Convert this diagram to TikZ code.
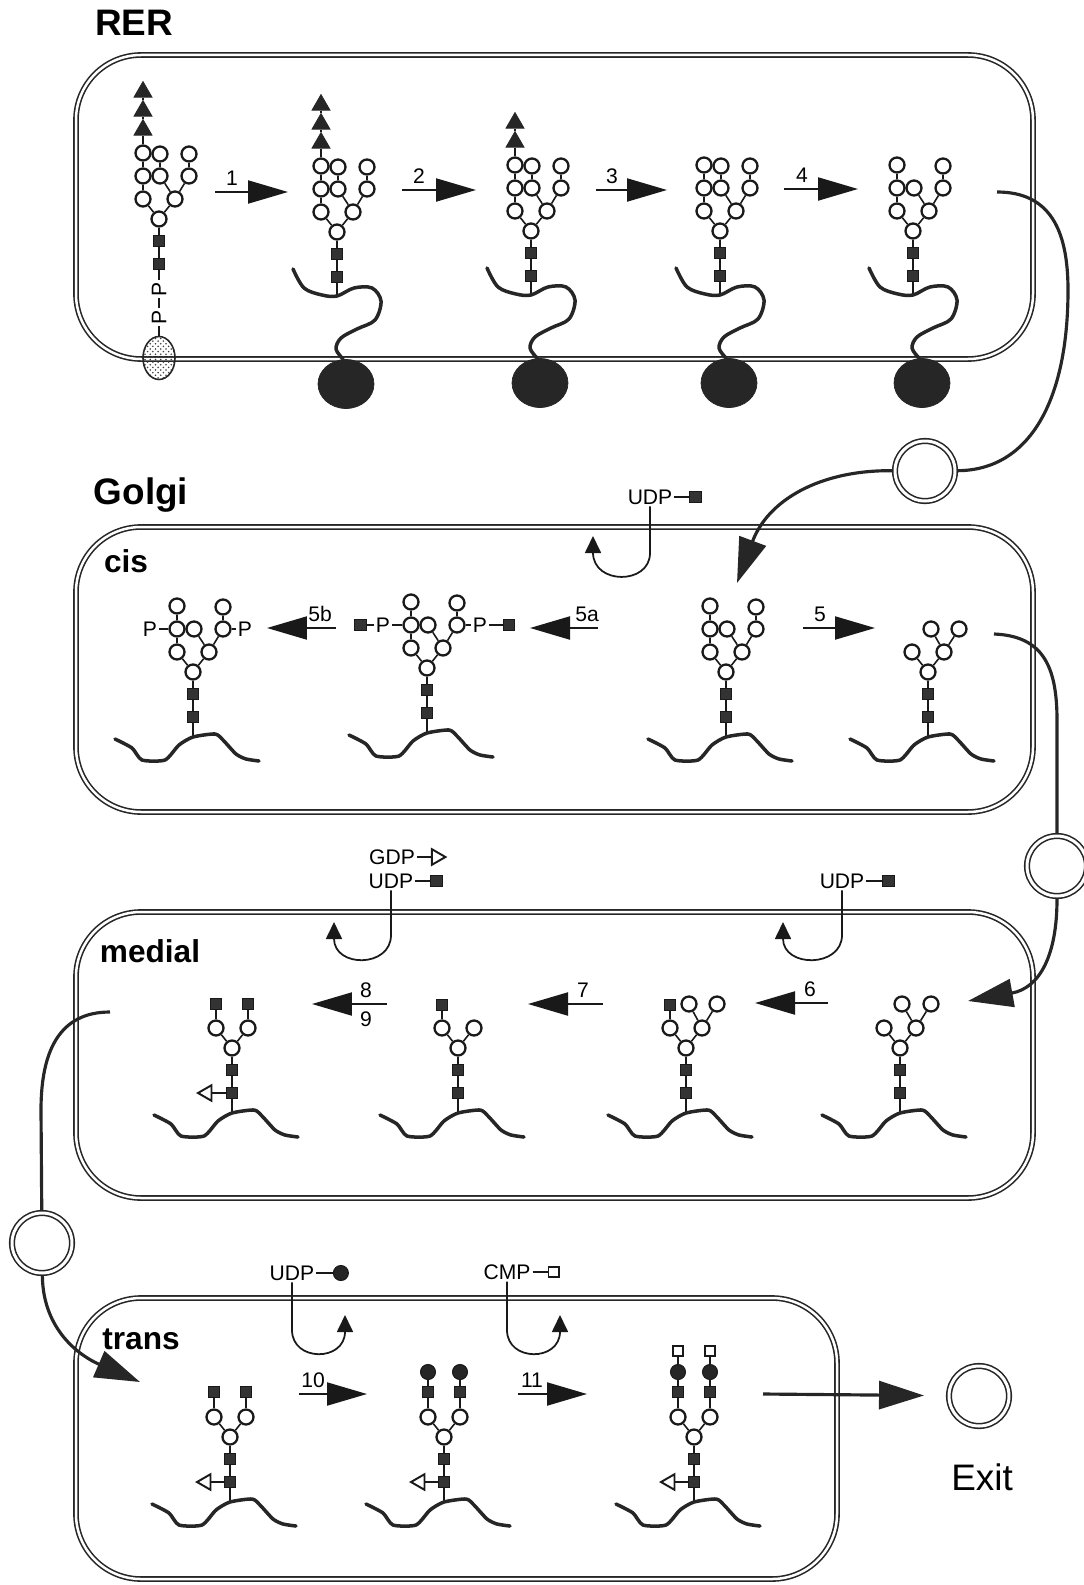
\documentclass[tikz,border=0pt]{standalone}
\usepackage{fontspec}
\setmainfont{Liberation Sans}
\usepackage{tikz}
\usetikzlibrary{arrows.meta,positioning,shapes.geometric,calc,patterns}

\tikzset{
  membrane/.style={draw=black!85, double=white, double distance=0.05cm, line width=0.9pt, rounded corners=1.3cm},
  vesicle/.style={circle, draw=black!85, double=white, double distance=0.06cm, line width=0.9pt,
    minimum size=1.2cm, inner sep=0pt, outer sep=0.06cm},
  man/.style={circle, draw=black!90, fill=white, line width=1.3pt, minimum size=0.3cm, inner sep=0pt},
  gal/.style={circle, draw=black!90, fill=black!85, line width=0.6pt, minimum size=0.3cm, inner sep=0pt},
  glcnac/.style={rectangle, draw=black!90, fill=black!80, line width=0.6pt, minimum size=0.23cm, inner sep=0pt},
  sia/.style={rectangle, draw=black!90, fill=white, line width=1.1pt, minimum size=0.21cm, inner sep=0pt},
  glc/.style={regular polygon, regular polygon sides=3, draw=black!85, fill=black!85,
    minimum size=0.42cm, inner sep=0pt},
  fuc/.style={regular polygon, regular polygon sides=3, shape border rotate=90, draw=black!90,
    fill=white, line width=1.1pt, minimum size=0.36cm, inner sep=0pt},
  link/.style={draw=black!90, line width=0.9pt},
  chain/.style={draw=black!85, line width=2pt, line cap=round, line join=round},
  ribosome/.style={ellipse, draw=black!85, fill=black!85, minimum width=1.12cm, minimum height=0.98cm, inner sep=0pt},
  dolichol/.style={ellipse, draw=black!85, line width=0.9pt, pattern=crosshatch dots, pattern color=black!75,
    minimum width=0.64cm, minimum height=0.86cm, inner sep=0pt},
  reaction/.style={draw=black!90, line width=1.2pt, -{Triangle[length=0.8cm, width=0.46cm]}},
  flow/.style={draw=black!85, line width=1.8pt},
  transport/.style={flow, -{Triangle[length=0.9cm, width=0.56cm]}},
  recycle/.style={draw=black!90, line width=1pt, -{Triangle[length=0.34cm, width=0.32cm]}},
  steplabel/.style={font=\fontsize{12}{14}\selectfont, inner sep=1pt},
  compartment/.style={font=\fontsize{21}{24}\selectfont\bfseries, inner sep=0pt},
  cisterna/.style={font=\fontsize{18}{21}\selectfont\bfseries, inner sep=0pt}
}

% one residue hung on a parent residue
\newcommand{\sugar}[4]{%
  \node[#1] (#2) at ($(#3)+(#4)$) {};
  \draw[link] (#3) -- (#2);}
% chitobiose + core mannose with its two branch mannoses
\newcommand{\trunk}[3]{%
  \node[man] (#1c) at (#2,#3) {};
  \sugar{glcnac}{#1n1}{#1c}{0,22}
  \sugar{glcnac}{#1n2}{#1n1}{0,23}
  \sugar{man}{#1lb}{#1c}{-16,-20}
  \sugar{man}{#1rb}{#1c}{16,-20}}
% outer mannoses of the Man8 antennae
\newcommand{\manarms}[1]{%
  \sugar{man}{#1l1}{#1lb}{0,-23}
  \sugar{man}{#1l2}{#1l1}{0,-23}
  \sugar{man}{#1m1}{#1rb}{-15,-23}
  \sugar{man}{#1r1}{#1rb}{14,-23}
  \sugar{man}{#1r2}{#1r1}{0,-22}}
% nascent chain threaded from the ribosome
\newcommand{\nascent}[2]{%
  \coordinate (#1s) at ($(#1n2)+(0,19)$);
  \draw[link] (#1n2) -- (#1s);
  \node[ribosome] (#2) at ($(#1s)+(9,88)$) {};
  \begin{scope}[shift={(#1s)}]
    \draw[chain] plot[smooth, tension=0.55] coordinates {(-44,-27) (-33,-8) (-15,-1) (0,0) (17,-8)
      (35,-8) (44,5) (38,24) (20,33) (4,42) (-1,53) (6,63)};
  \end{scope}}
% folded protein in the Golgi
\newcommand{\golgichain}[1]{%
  \coordinate (#1s) at ($(#1n2)+(0,20)$);
  \draw[link] (#1n2) -- (#1s);
  \begin{scope}[shift={(#1s)}]
    \draw[chain] plot[smooth, tension=0.4] coordinates {(-78,2) (-61,11) (-51,23) (-28,23) (-14,8)
      (0,0) (22,-3) (30,3) (43,17) (53,22) (66,24)};
  \end{scope}}

\begin{document}
\begin{tikzpicture}[x=0.02cm, y=-0.02cm]
\useasboundingbox (0,0) rectangle (1084,1585);

% compartments
\draw[membrane] (76,55) rectangle (1033,359);
\draw[membrane] (76,527) rectangle (1033,812);
\draw[membrane] (76,912) rectangle (1033,1198);
\draw[membrane] (76,1298) rectangle (837,1579);

\node[compartment] (rer) at (134,23) {RER};
\node[compartment] (golgi) at (141,495) {Golgi};
\node[cisterna] (cis) at (126,561) {cis};
\node[cisterna] (medial) at (150,951) {medial};
\node[cisterna] (trans) at (141,1339) {trans};

% ---- RER ----
\trunk{er1}{159}{219}
\manarms{er1}
\sugar{man}{er1m2}{er1m1}{0,-22}
\sugar{glc}{er1g1}{er1l2}{0,-23}
\sugar{glc}{er1g2}{er1g1}{0,-19}
\sugar{glc}{er1g3}{er1g2}{0,-19}
\node[steplabel, rotate=90] (er1p1) at (159,289) {P};
\node[steplabel, rotate=90] (er1p2) at (159,317) {P};
\node[dolichol] (dol) at (159,358) {};
\draw[link] (er1n2) -- (er1p1);
\draw[link] (er1p1) -- (er1p2);
\draw[link] (er1p2) -- (dol);

\trunk{er2}{337}{232}
\manarms{er2}
\sugar{man}{er2m2}{er2m1}{0,-22}
\sugar{glc}{er2g1}{er2l2}{0,-23}
\sugar{glc}{er2g2}{er2g1}{0,-19}
\sugar{glc}{er2g3}{er2g2}{0,-19}
\nascent{er2}{rib2}

\trunk{er3}{531}{231}
\manarms{er3}
\sugar{man}{er3m2}{er3m1}{0,-22}
\sugar{glc}{er3g1}{er3l2}{0,-23}
\sugar{glc}{er3g2}{er3g1}{0,-19}
\nascent{er3}{rib3}

\trunk{er4}{720}{231}
\manarms{er4}
\sugar{man}{er4m2}{er4m1}{0,-22}
\nascent{er4}{rib4}

\trunk{er5}{913}{231}
\manarms{er5}
\nascent{er5}{rib5}

% ---- cis ----
\trunk{cs1}{193}{672}
\manarms{cs1}
\node[steplabel] (cs1pl) at ($(cs1l1)+(-27,0)$) {P};
\node[steplabel] (cs1pr) at ($(cs1r1)+(22,0)$) {P};
\draw[link] (cs1pl) -- (cs1l1);
\draw[link] (cs1r1) -- (cs1pr);
\golgichain{cs1}

\trunk{cs2}{427}{668}
\manarms{cs2}
\node[steplabel] (cs2pl) at ($(cs2l1)+(-28,0)$) {P};
\node[glcnac, left=0.14cm of cs2pl] (cs2nl) {};
\node[steplabel] (cs2pr) at ($(cs2r1)+(23,0)$) {P};
\node[glcnac, right=0.27cm of cs2pr] (cs2nr) {};
\draw[link] (cs2nl) -- (cs2pl);
\draw[link] (cs2pl) -- (cs2l1);
\draw[link] (cs2r1) -- (cs2pr);
\draw[link] (cs2pr) -- (cs2nr);
\golgichain{cs2}

\trunk{cs3}{726}{672}
\manarms{cs3}
\golgichain{cs3}

\trunk{cs4}{928}{672}
\sugar{man}{cs4m1}{cs4rb}{-13,-23}
\sugar{man}{cs4r1}{cs4rb}{15,-23}
\golgichain{cs4}

% ---- medial ----
\trunk{md1}{900}{1048}
\sugar{man}{md1m1}{md1rb}{-14,-24}
\sugar{man}{md1r1}{md1rb}{15,-24}
\golgichain{md1}

\trunk{md2}{686}{1048}
\sugar{man}{md2m1}{md2rb}{-13,-24}
\sugar{man}{md2r1}{md2rb}{15,-24}
\sugar{glcnac}{md2x}{md2lb}{0,-23}
\golgichain{md2}

\trunk{md3}{458}{1048}
\sugar{glcnac}{md3x}{md3lb}{0,-23}
\golgichain{md3}

\trunk{md4}{232}{1048}
\sugar{glcnac}{md4x}{md4lb}{0,-24}
\sugar{glcnac}{md4y}{md4rb}{0,-24}
\sugar{fuc}{md4f}{md4n2}{-25,0}
\golgichain{md4}

% ---- trans ----
\trunk{tr1}{230}{1437}
\sugar{glcnac}{tr1x}{tr1lb}{0,-25}
\sugar{glcnac}{tr1y}{tr1rb}{0,-25}
\sugar{fuc}{tr1f}{tr1n2}{-24,0}
\golgichain{tr1}

\trunk{tr2}{444}{1437}
\sugar{glcnac}{tr2x}{tr2lb}{0,-25}
\sugar{glcnac}{tr2y}{tr2rb}{0,-25}
\sugar{gal}{tr2gx}{tr2x}{0,-20}
\sugar{gal}{tr2gy}{tr2y}{0,-20}
\sugar{fuc}{tr2f}{tr2n2}{-24,0}
\golgichain{tr2}

\trunk{tr3}{694}{1437}
\sugar{glcnac}{tr3x}{tr3lb}{0,-25}
\sugar{glcnac}{tr3y}{tr3rb}{0,-25}
\sugar{gal}{tr3gx}{tr3x}{0,-20}
\sugar{gal}{tr3gy}{tr3y}{0,-20}
\sugar{sia}{tr3sx}{tr3gx}{0,-21}
\sugar{sia}{tr3sy}{tr3gy}{0,-21}
\sugar{fuc}{tr3f}{tr3n2}{-24,0}
\golgichain{tr3}

% numbered steps
\foreach \n/\xa/\xb/\y/\xl in {1/215/288/192/232, 2/402/476/190/419, 3/596/667/190/612,
    4/784/858/189/802, 5b/336/267/628/320, 5a/598/530/628/587, 5/803/875/628/820,
    7/603/528/1004/583, 6/828/755/1003/810, 10/299/367/1394/313, 11/518/587/1394/532}{
  \coordinate (r\n-a) at (\xa,\y);
  \coordinate (r\n-b) at (\xb,\y);
  \draw[reaction] (r\n-a) -- (r\n-b);
  \node[steplabel] (l\n) at (\xl,\y-14) {\n};
}
\coordinate (r89-a) at (387,1004);
\coordinate (r89-b) at (312,1004);
\draw[reaction] (r89-a) -- (r89-b);
\node[steplabel] (l8) at (366,990) {8};
\node[steplabel] (l9) at (366,1019) {9};

% sugar donors and released nucleotides
\node[steplabel] (udpc) at (650,497) {UDP};
\node[glcnac, right=0.3cm of udpc] (udpcs) {};
\draw[link] (udpc) -- (udpcs);
\coordinate (tipc) at (593,536);
\draw[recycle] (udpc.south) -- (650,553) .. controls (650,585) and (593,585) .. (tipc);

\node[steplabel] (gdpm) at (392,857) {GDP};
\node[fuc, shape border rotate=-90, right=0.28cm of gdpm] (gdpms) {};
\draw[link] (gdpm) -- (gdpms);
\node[steplabel] (udpm) at (391,881) {UDP};
\node[glcnac, right=0.3cm of udpm] (udpms) {};
\draw[link] (udpm) -- (udpms);
\coordinate (tipm) at (334,922);
\draw[recycle] (udpm.south) -- (391,935) .. controls (391,968) and (334,968) .. (tipm);

\node[steplabel] (udpn) at (842,881) {UDP};
\node[glcnac, right=0.32cm of udpn] (udpns) {};
\draw[link] (udpn) -- (udpns);
\coordinate (tipn) at (783,922);
\draw[recycle] (udpn.south) -- (842,935) .. controls (842,968) and (783,968) .. (tipn);

\node[steplabel] (udpt) at (292,1273) {UDP};
\node[gal, right=0.33cm of udpt] (udpts) {};
\draw[link] (udpt) -- (udpts);
\coordinate (tipt) at (345,1315);
\draw[recycle] (udpt.south) -- (292,1330) .. controls (292,1362) and (345,1362) .. (tipt);

\node[steplabel] (cmpt) at (507,1272) {CMP};
\node[sia, right=0.3cm of cmpt] (cmpts) {};
\draw[link] (cmpt) -- (cmpts);
\coordinate (tipu) at (560,1315);
\draw[recycle] (cmpt.south) -- (507,1330) .. controls (507,1362) and (560,1362) .. (tipu);

% vesicle traffic
\node[vesicle] (ves1) at (925,471) {};
\node[vesicle] (ves2) at (1057,866) {};
\node[vesicle] (ves3) at (42,1243) {};
\node[vesicle] (exit) at (979,1396) {};
\node[font=\fontsize{21}{24}\selectfont, inner sep=0pt] (exitlab) at (982,1477) {Exit};

\coordinate (erout) at (997,192);
\draw[flow] (erout) .. controls (1050,192) and (1068,230) .. (1068,290)
  .. controls (1068,400) and (1030,470) .. (ves1);
\coordinate (cisin) at (737,583);
\draw[transport] (ves1) .. controls (820,470) and (768,500) .. (cisin);
\coordinate (cisout) at (994,634);
\draw[flow] (cisout) .. controls (1042,636) and (1057,665) .. (1057,720) -- (ves2);
\coordinate (medin) at (968,1001);
\draw[transport] (ves2) .. controls (1057,955) and (1040,988) .. (medin);
\coordinate (medout) at (110,1012);
\draw[flow] (medout) .. controls (60,1012) and (41,1050) .. (41,1110) -- (ves3);
\coordinate (transin) at (140,1382);
\draw[transport] (ves3) .. controls (43,1330) and (80,1356) .. (transin);
\coordinate (transout) at (763,1394);
\draw[transport, shorten >=0.44cm] (transout) -- (exit);
\end{tikzpicture}
\end{document}
